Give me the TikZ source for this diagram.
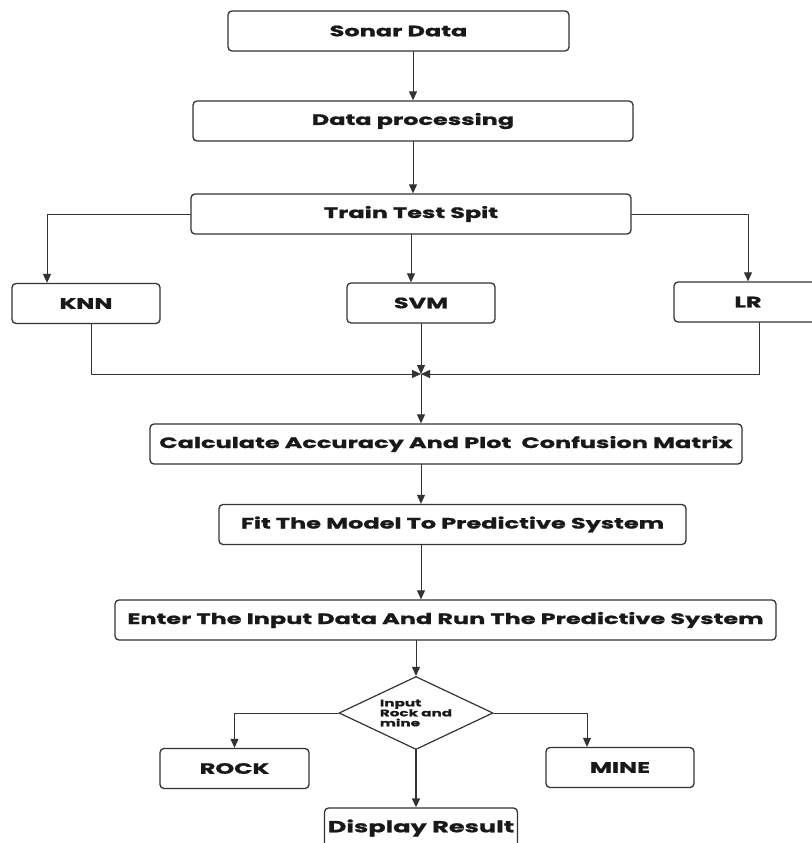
\documentclass[tikz,border=0pt]{standalone}
\usepackage{fontspec}
\setmainfont{Poppins}[FakeStretch=1.6,BoldFeatures={FakeBold=1.2}]
\usetikzlibrary{arrows.meta,shapes.geometric}

\begin{document}
\begin{tikzpicture}[x=1pt,y=-1pt,line cap=round,line join=round,
    box/.style={draw=black!80,line width=1.3pt,rounded corners=4pt,
        minimum height=40pt,font=\fontsize{15}{16}\selectfont\bfseries,text=black!90},
    dec/.style={draw=black!80,line width=1.2pt,diamond,aspect=2.1,inner sep=0pt,
        minimum width=154pt,minimum height=73pt,align=left,
        font=\fontsize{9.5}{10}\selectfont\bfseries,text=black!90},
    arr/.style={draw=black!80,line width=0.9pt,-{Triangle[length=9pt,width=8pt]}}]
    
    \useasboundingbox (0,0) rectangle (811,843);
    
    % boxes
    \node[box,minimum width=341pt] (sonar) at (398.5,31) {Sonar Data};
    \node[box,minimum width=440pt] (proc) at (413,121) {Data processing};
    \node[box,minimum width=440pt] (split) at (411,214) {Train Test Spit};
    \node[box,minimum width=148pt] (knn) at (86,303.5) {KNN};
    \node[box,minimum width=148pt] (svm) at (421,303) {SVM};
    \node[box,minimum width=148pt] (lr) at (748,302) {LR};
    \node[box,minimum width=592pt] (calc) at (446,444) {Calculate Accuracy And Plot\ \ Confusion Matrix};
    \node[box,minimum width=467pt] (fit) at (452.5,524.5) {Fit The Model To Predictive System};
    \node[box,minimum width=661pt] (enter) at (445.5,620) {Enter The Input Data And Run The Predictive System};
    \node[dec] (input) at (416,713) {Input\\Rock and\\mine};
    \node[box,minimum width=192pt,font=\fontsize{16}{18}\selectfont\bfseries] (result) at (421,828) {Display Result};
    \node[box,minimum width=149pt] (rock) at (234.5,768.5) {ROCK};
    \node[box,minimum width=148pt] (mine) at (620,767.5) {MINE};
    
    % arrows
    \coordinate (merge) at (421,374);
    \draw[arr] (sonar.south -| proc.north) -- (proc.north);
    \draw[arr] (proc.south) -- (proc.south |- split.north);
    \draw[arr] (split.west) -| ([xshift=-39pt]knn.north);
    \draw[arr] (split.south) -- (split.south |- svm.north);
    \draw[arr] (split.east) -| (lr.north);
    \draw[arr] ([xshift=5pt]knn.south) |- (merge);
    \draw[arr] ([xshift=11pt]lr.south) |- (merge);
    \draw[arr] (svm.south) -- (merge);
    \draw[arr] (merge) -- (merge |- calc.north);
    \draw[arr] (merge |- calc.south) -- (merge |- fit.north);
    \draw[arr] (merge |- fit.south) -- (merge |- enter.north);
    \draw[arr] (enter.south -| input.north) -- (input.north);
    \draw[arr] (input.west) -| (rock.north);
    \draw[arr] (input.east) -| ([xshift=-33pt]mine.north);
    \draw[arr,line width=1.6pt] (input.south) -- (input.south |- result.north);
    
\end{tikzpicture}
\end{document}
